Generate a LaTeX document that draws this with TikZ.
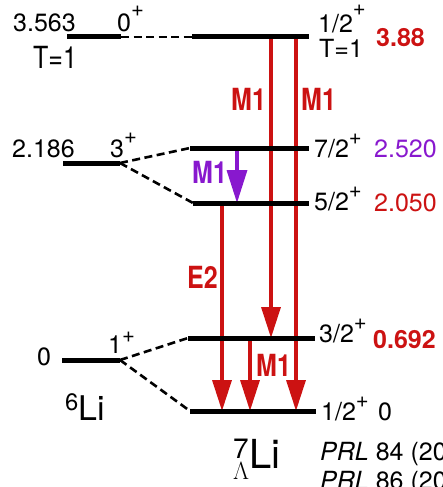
\documentclass[tikz,border=0pt]{standalone}
\usepackage{amsmath}
\usepackage{fontspec}
\setmainfont{TeX Gyre Heros}
\usetikzlibrary{arrows.meta}
\definecolor{gammared}{RGB}{204,18,18}
\definecolor{gammapurple}{RGB}{136,24,206}
\newcommand\parity[2][12.5pt]{\raisebox{#1}{\fontsize{22}{24}\selectfont #2}}
\newcommand\tallbox[1]{\scalebox{1}[1.22]{#1}}

\begin{document}
\begin{tikzpicture}[x=1pt,y=-1pt]
\tikzset{
  level/.style={line width=5pt},
  link/.style={line width=2.6pt,dash pattern=on 8pt off 4.5pt},
  trans/.style={line width=3.4pt,-{Triangle[length=31pt,width=19pt]}},
  lbl/.style={inner sep=0pt,anchor=base west,font=\fontsize{25}{29}\selectfont},
  glbl/.style={lbl,font=\fontsize{25}{29}\selectfont\bfseries}
}
\clip (0,0) rectangle (442,487);
% 6Li levels
\coordinate (c0a) at (67,37);   \coordinate (c0b) at (121,37);
\coordinate (c3a) at (63,163);  \coordinate (c3b) at (120,163);
\coordinate (c1a) at (62,360);  \coordinate (c1b) at (120,360);
% hypernuclear levels
\coordinate (h1a) at (192,37);  \coordinate (h1b) at (309,37);
\coordinate (h7a) at (190,148); \coordinate (h7b) at (309,148);
\coordinate (h5a) at (193,203); \coordinate (h5b) at (309,203);
\coordinate (h3a) at (188,338); \coordinate (h3b) at (315,338);
\coordinate (hga) at (190,411); \coordinate (hgb) at (316,411);
% transition end points
\coordinate (g1s) at (271,37);  \coordinate (g1e) at (271,338);
\coordinate (g2s) at (296,37);  \coordinate (g2e) at (296,411);
\coordinate (g3s) at (237,148); \coordinate (g3e) at (237,203);
\coordinate (g4s) at (222,203); \coordinate (g4e) at (222,411);
\coordinate (g5s) at (250,338); \coordinate (g5e) at (250,411);
\draw[link] (c0b) -- (h1a);
\draw[link] (c3b) -- (h7a);
\draw[link] (c3b) -- (h5a);
\draw[link] (c1b) -- (h3a);
\draw[link] (c1b) -- (hga);
\draw[trans,gammared] (g1s) -- (g1e);
\draw[trans,gammared] (g2s) -- (g2e);
\draw[trans,gammapurple,-{Triangle[length=33pt,width=20pt]}] (g3s) -- (g3e);
\draw[trans,gammared] (g4s) -- (g4e);
\draw[trans,gammared] (g5s) -- (g5e);
\draw[level] (c0a) -- (c0b);
\draw[level] (c3a) -- (c3b);
\draw[level] (c1a) -- (c1b);
\draw[level] (h1a) -- (h1b);
\draw[level] (h7a) -- (h7b);
\draw[level] (h5a) -- (h5b);
\draw[level] (h3a) -- (h3b);
\draw[level] (hga) -- (hgb);
% 6Li labels
\node[lbl] (e0) at (13,32) {3.563};
\node[lbl] (j0) at (117,32) {0\parity[15pt]{+}};
\node[lbl] (t0) at (33,68) {\tallbox{T=1}};
\node[lbl] (e3) at (12,157) {2.186};
\node[lbl] (j3) at (110,157) {3\parity[14pt]{+}};
\node[lbl] (e1) at (37,365) {0};
\node[lbl] (j1) at (108,353) {1\parity[11pt]{+}};
\node[lbl,font=\fontsize{34}{38}\selectfont] (li6) at (65,420) {$^{\text{6}}$Li};
% hypernuclear labels
\node[lbl] (jh1) at (318,33) {1/2\parity[17pt]{+}};
\node[lbl] (th1) at (319,58) {T=1};
\node[glbl,gammared] (eh1) at (376,47) {3.88};
\node[lbl] (jh7) at (314,157) {7/2\parity{+}};
\node[lbl,gammapurple] (eh7) at (374,157) {2.520};
\node[lbl] (jh5) at (314,210) {5/2\parity{+}};
\node[lbl,gammared] (eh5) at (374,211) {2.050};
\node[lbl] (jh3) at (319,342) {3/2\parity{+}};
\node[glbl,gammared] (eh3) at (373,348) {0.692};
\node[lbl] (jhg) at (321,420) {1/2\parity{+}};
\node[lbl] (ehg) at (378,420) {0};
\node[lbl,font=\fontsize{40}{44}\selectfont] (li7) at (233,468) {$^{\text{7}}_{\Lambda}$Li};
\node[lbl] (ref1) at (320,460) {\textit{PRL} 84 (20};
\node[lbl] (ref2) at (320,489) {\textit{PRL} 86 (20};
% transition labels
\node[glbl,gammared] (m1a) at (231,110) {\tallbox{M1}};
\node[glbl,gammared] (m1b) at (301,110) {\tallbox{M1}};
\node[glbl,gammapurple] (m1c) at (192,183) {\tallbox{M1}};
\node[glbl,gammared] (e2) at (187,288) {\tallbox{E2}};
\node[glbl,gammared] (m1d) at (256,376) {\tallbox{M1}};
\end{tikzpicture}
\end{document}
